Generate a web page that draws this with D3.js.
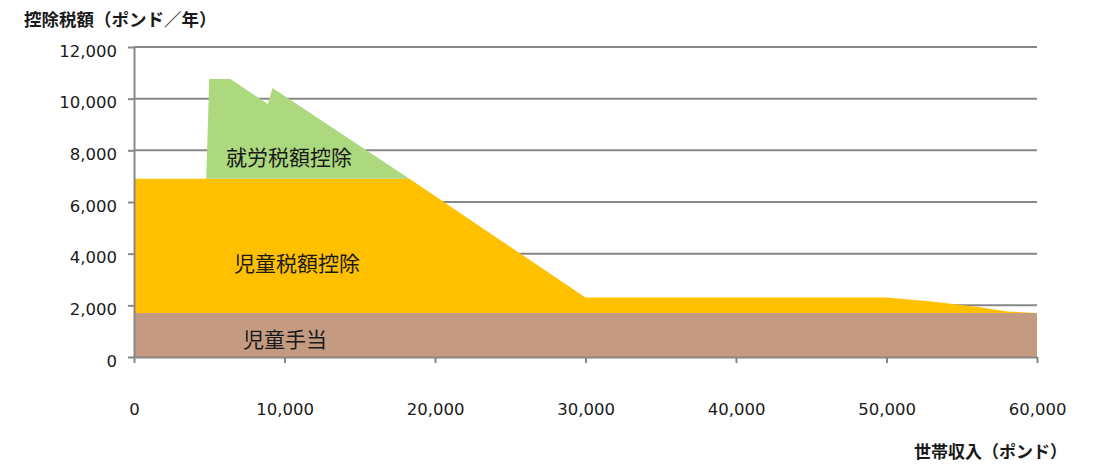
<!DOCTYPE html>
<html>
<head>
<meta charset="utf-8">
<script src="https://cdn.jsdelivr.net/npm/d3@7"></script>
<style>
  body { margin: 0; background: #fff; }
  .axis path, .axis line { stroke: #878787; stroke-width: 2; }
  .axis text { font-family: "DejaVu Sans", sans-serif; font-size: 16.5px; fill: #1a1a1a; }
  .lbl { font-family: "Noto Sans CJK JP", sans-serif; fill: #1a1a1a; }
</style>
</head>
<body>
<svg id="chart"></svg>
<script>
// household income (pounds) breakpoints
const income = [0, 4800, 5000, 6400, 8900, 9200, 18300, 30000, 50000, 53000, 56000, 58000, 60000];
// credit amounts per layer (pounds / year)
const childBenefit   = [1700, 1700, 1700, 1700, 1700, 1700, 1700, 1700, 1700, 1700, 1700, 1700, 1700];
const childTaxCredit = [5200, 5200, 5200, 5200, 5200, 5200, 5200, 600, 600, 450, 250, 60, 0];
const workTaxCredit  = [0, 0, 3860, 3860, 2890, 3510, 0, 0, 0, 0, 0, 0, 0];

const layerKeys = ["childBenefit", "childTaxCredit", "workTaxCredit"];
const layerNames = ["児童手当", "児童税額控除", "就労税額控除"];
const layerColors = ["#c49a80", "#ffc000", "#acd87e"];

const yTicks = [0, 2000, 4000, 6000, 8000, 10000, 12000];
const xTicks = [0, 10000, 20000, 30000, 40000, 50000, 60000];

const W = 1099, H = 464;
const margin = {left: 134, right: 62, top: 47, bottom: 107};

const svg = d3.select("#chart").attr("width", W).attr("height", H);

const x = d3.scaleLinear().domain([0, 60000]).range([margin.left, W - margin.right]);
const y = d3.scaleLinear().domain([0, 12000]).range([H - margin.bottom, margin.top]);

const rows = income.map((inc, i) => ({
    income: inc,
    childBenefit: childBenefit[i],
    childTaxCredit: childTaxCredit[i],
    workTaxCredit: workTaxCredit[i]
}));
const series = d3.stack().keys(layerKeys)(rows);

// gridlines (behind the areas)
svg.append("g")
    .selectAll("line")
    .data(yTicks.slice(1))
    .join("line")
    .attr("x1", margin.left)
    .attr("x2", W - margin.right)
    .attr("y1", d => y(d))
    .attr("y2", d => y(d))
    .attr("stroke", "#878787")
    .attr("stroke-width", 2);

const area = d3.area()
    .x(d => x(d.data.income))
    .y0(d => y(d[0]))
    .y1(d => y(d[1]));

svg.append("g")
    .selectAll("path")
    .data(series)
    .join("path")
    .attr("fill", (d, i) => layerColors[i])
    .attr("d", area);

// axes
svg.append("g")
    .attr("class", "axis")
    .attr("transform", `translate(${margin.left},0)`)
    .call(d3.axisLeft(y).tickValues(yTicks).tickFormat(d3.format(",")).tickSize(6).tickPadding(11).tickSizeOuter(0))
    .call(g => g.selectAll("text").attr("dy", "0.55em"));

svg.append("g")
    .attr("class", "axis")
    .attr("transform", `translate(0,${y(0)})`)
    .call(d3.axisBottom(x).tickValues(xTicks).tickFormat(d3.format(",")).tickSize(6).tickPadding(40).tickSizeOuter(0));

// layer labels
const labelPos = [[285, 339], [297, 263], [289, 157]];
svg.append("g")
    .selectAll("text")
    .data(layerNames)
    .join("text")
    .attr("class", "lbl")
    .attr("x", (d, i) => labelPos[i][0])
    .attr("y", (d, i) => labelPos[i][1])
    .attr("dy", "0.36em")
    .attr("text-anchor", "middle")
    .attr("font-size", 21)
    .text(d => d);

// axis titles
svg.append("text")
    .attr("class", "lbl")
    .attr("x", 24)
    .attr("y", 26)
    .attr("font-size", 17.5)
    .attr("font-weight", "bold")
    .text("控除税額（ポンド／年）");

svg.append("text")
    .attr("class", "lbl")
    .attr("x", 914)
    .attr("y", 458)
    .attr("font-size", 17)
    .attr("font-weight", "bold")
    .text("世帯収入（ポンド）");
</script>
</body>
</html>
